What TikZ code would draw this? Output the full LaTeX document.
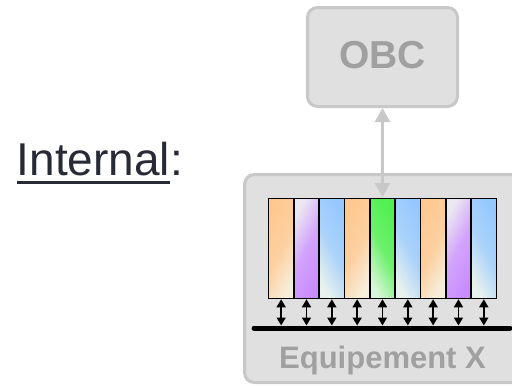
\documentclass[tikz,border=0pt]{standalone}
\usepackage{fontspec}
\setmainfont{Liberation Sans}
\usetikzlibrary{arrows.meta}

\definecolor{boxfill}{RGB}{224,224,224}
\definecolor{boxline}{RGB}{200,200,200}
\definecolor{boxtext}{RGB}{160,160,160}
\definecolor{inktext}{RGB}{40,42,54}
\definecolor{orA}{RGB}{255,200,145}
\definecolor{orB}{RGB}{245,238,218}
\definecolor{puA}{RGB}{236,232,242}
\definecolor{puB}{RGB}{202,140,255}
\definecolor{blA}{RGB}{150,200,255}
\definecolor{blB}{RGB}{232,242,236}
\definecolor{grA}{RGB}{80,240,80}
\definecolor{grB}{RGB}{215,245,215}

% underline with a fixed rule thickness
\newcommand\thickul[1]{\setbox0\hbox{#1}\rlap{\rule[-8.5pt]{\wd0}{3pt}}\box0}

\tikzset{
  unit/.style={draw=boxline, fill=boxfill, line width=3pt,
    rounded corners=10pt, inner sep=0},
  slot/.style={draw=black, line width=1.5pt, minimum width=25.33pt,
    minimum height=100pt, inner sep=0, outer sep=0, anchor=north west},
  linkarrow/.style={draw=boxline, line width=3pt,
    {Triangle[width=15pt,length=14pt]}-{Triangle[width=15pt,length=14pt]}},
  busarrow/.style={draw=black, line width=1.5pt,
    {Triangle[width=9pt,length=8pt]}-{Triangle[width=9pt,length=8pt]}},
  busline/.style={draw=black, line width=5pt, line cap=round},
  graylabel/.style={text=boxtext, font=\bfseries, inner sep=0}
}

\begin{document}
\begin{tikzpicture}[x=1pt, y=-1pt]
  \useasboundingbox (0,0) rectangle (512,386);
  \fill[white] (0,0) rectangle (512,386);

  % caption
  \node[anchor=base west, inner sep=0, text=inktext,
        font=\fontsize{46}{50}\selectfont] (title) at (16.5,175)
        {\thickul{Internal}:};

  % on-board computer
  \node[unit, minimum width=150pt, minimum height=99pt,
        graylabel, font=\fontsize{39}{44}\bfseries, text depth=4pt]
        (obc) at (382.5,57) {OBC};

  % equipment enclosure
  \node[unit, minimum width=285.5pt, minimum height=208pt]
        (equip) at (387.25,278.5) {};

  % boards in the rack: first colour is the one that dominates
  \foreach \ca/\cb/\cm/\ang [count=\i from 0] in
      {orA/orB/orA!80!orB/62, puA/puB/puA!25!puB/62, blA/blB/blA!75!blB/-62,
       orA/orB/orA!80!orB/62, grA/grB/grA!80!grB/-62, blA/blB/blA!75!blB/-62,
       orA/orB/orA!80!orB/62, puA/puB/puA!25!puB/62, blA/blB/blA!75!blB/-62}
    \node[slot, top color=\ca, bottom color=\cb, middle color=\cm,
          shading angle=\ang]
        (c\i) at (268.5+\i*25.33, 198.5) {};

  % backplane bus
  \coordinate (busL) at (254,328);
  \coordinate (busR) at (510,328);
  \coordinate (bustop) at (254,325.5);
  \draw[busline] (busL) -- (busR);

  \foreach \i in {0,...,8}
    \draw[busarrow, shorten <=0.75pt] (c\i.south) -- (c\i.south |- bustop);

  % link to the on-board computer
  \draw[linkarrow, shorten >=1.5pt] (obc.south) -- (c4.north);

  \node[graylabel, font=\fontsize{31}{36}\bfseries, anchor=base]
        (eqlabel) at (382.5,368) {Equipement X};
\end{tikzpicture}
\end{document}
